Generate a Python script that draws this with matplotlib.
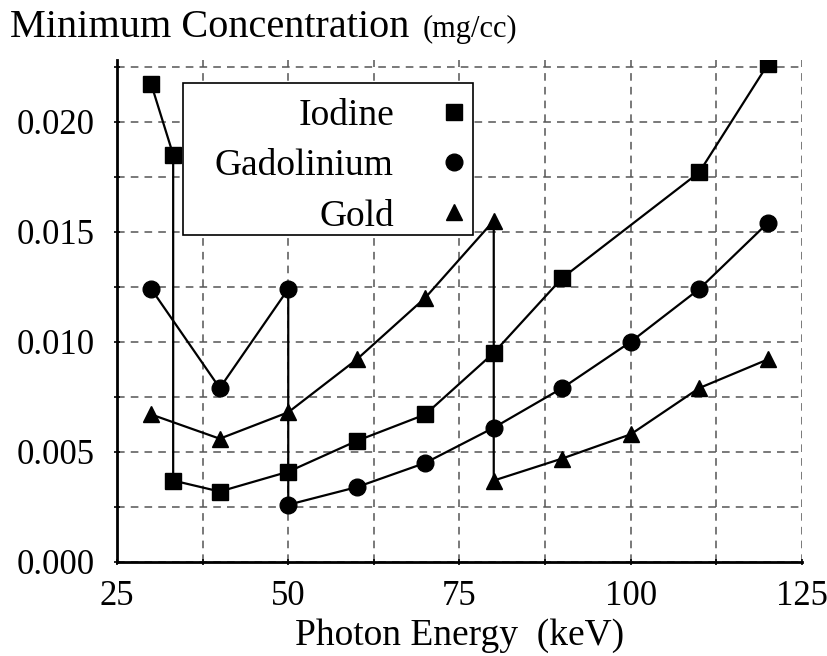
import numpy as np
import matplotlib
matplotlib.use("Agg")
from matplotlib import pyplot as plt
from matplotlib.patches import Rectangle

# photon energy (keV) and minimum concentration (mg/cc)
iodine_x = [30, 33.2, 33.2, 40, 50, 60, 70, 80, 90, 110, 120]
iodine_y = [0.0217, 0.0185, 0.0037, 0.0032, 0.0041, 0.0055, 0.0067, 0.0095, 0.0129, 0.0177, 0.0226]

gad_x = [30, 40, 50, 50, 60, 70, 80, 90, 100, 110, 120]
gad_y = [0.0124, 0.0079, 0.0124, 0.0026, 0.0034, 0.0045, 0.0061, 0.0079, 0.0100, 0.0124, 0.0154]

gold_x = [30, 40, 50, 60, 70, 80, 80, 90, 100, 110, 120]
gold_y = [0.0067, 0.0056, 0.0068, 0.0092, 0.0120, 0.0155, 0.0037, 0.0047, 0.0058, 0.0079, 0.0092]

x_ticks = [25, 50, 75, 100, 125]
y_ticks = [0.000, 0.005, 0.010, 0.015, 0.020]

plt.rcParams['font.family'] = ['Liberation Serif', 'DejaVu Serif']

fig = plt.figure(figsize=(8.28, 6.56), dpi=100)
ax = fig.add_axes([0.1413, 0.1433, 0.8273, 0.7652])

ax.plot(iodine_x, iodine_y, 'k-s', lw=1.6, ms=12, label='Iodine')
ax.plot(gad_x, gad_y, 'k-o', lw=1.6, ms=12, label='Gadolinium')
ax.plot(gold_x, gold_y, 'k-^', lw=1.6, ms=12, label='Gold')

ax.set_xlim(25, 125)
ax.set_ylim(0, 0.0228)
ax.set_xticks(x_ticks)
ax.set_xticklabels([str(v) for v in x_ticks])
ax.set_yticks(y_ticks)
ax.set_yticklabels(['%.3f' % v for v in y_ticks])
ax.set_xticks(np.arange(37.5, 125, 25), minor=True)
ax.set_yticks(np.arange(0.0025, 0.023, 0.005), minor=True)
ax.tick_params(labelsize=25, length=4, width=1.2, direction='inout')
ax.tick_params(axis='x', pad=11)
ax.tick_params(axis='y', pad=14)
ax.tick_params(which='minor', length=4, width=1.2, direction='inout')
ax.grid(True, which='both', ls=(0, (5, 4)), color='#555555', lw=1.1)
ax.set_axisbelow(True)

for s in ['top', 'right']:
    ax.spines[s].set_visible(False)
for s in ['left', 'bottom']:
    ax.spines[s].set_linewidth(2)

ax.set_xlabel('Photon Energy  (keV)', fontsize=27, labelpad=4)
fig.text(0.012, 0.944, 'Minimum Concentration', fontsize=29, ha='left', va='baseline')
fig.text(0.511, 0.944, '(mg/cc)', fontsize=22, ha='left', va='baseline')

# legend frame drawn separately so the box can be wider than the entries
ax.add_patch(Rectangle((0.0964, 0.651), 0.4233, 0.303, transform=ax.transAxes,
                       facecolor='white', edgecolor='k', lw=1.2, zorder=4))
leg = ax.legend(loc='upper right', bbox_to_anchor=(0.522, 0.942), borderaxespad=0,
                markerfirst=False, fontsize=27, frameon=False,
                handlelength=0.6, labelspacing=0.42,
                borderpad=0.25, handletextpad=1.3)
leg.set_zorder(5)
for h in leg.get_lines():
    h.set_linestyle('None')

fig.savefig('out.png', dpi=100)
